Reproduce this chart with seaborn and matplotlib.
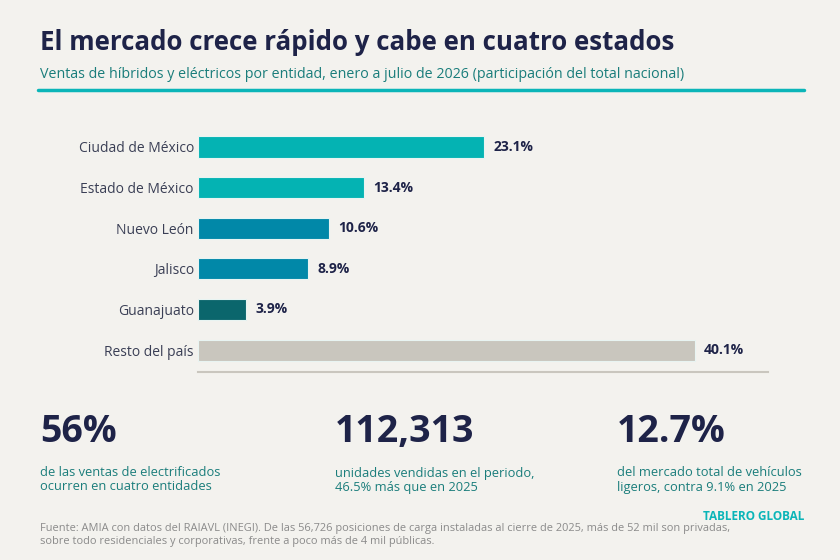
import seaborn as sns
import matplotlib.pyplot as plt
import pandas as pd

# data
estados = ['Ciudad de México', 'Estado de México', 'Nuevo León', 'Jalisco',
           'Guanajuato', 'Resto del país']
participacion = [23.1, 13.4, 10.6, 8.9, 3.9, 40.1]
colores = ['#04b3b3', '#04b3b3', '#0188a8', '#0188a8', '#0b666c', '#c9c6be']

cifras = ['56%', '112,313', '12.7%']
notas = ['de las ventas de electrificados\nocurren en cuatro entidades',
         'unidades vendidas en el periodo,\n46.5% más que en 2025',
         'del mercado total de vehículos\nligeros, contra 9.1% en 2025']

fondo = '#f3f2ee'
navy = '#1e2348'
teal = '#1a7d7b'

sns.set_theme(style='white')
plt.rcParams['font.family'] = ['Open Sans', 'DejaVu Sans']

df = pd.DataFrame({'estado': estados, 'valor': participacion})

fig = plt.figure(figsize=(8.4, 5.6), dpi=100, facecolor=fondo)
ax = fig.add_axes([198 / 840, 1 - 372 / 560, 570 / 840, 247 / 560])
ax.set_facecolor(fondo)

sns.barplot(data=df, x='valor', y='estado', hue='estado', palette=colores,
            saturation=1, legend=False, width=0.52, ax=ax,
            edgecolor='#e8f4f2', linewidth=0.8)

ax.set_xlim(0, 46)
ax.set_ylim(5.54, -0.54)
ax.set_xlabel('')
ax.set_ylabel('')
ax.set_xticks([])
ax.tick_params(axis='y', length=0, pad=3, labelsize=10, labelcolor='#3a3f55')
for s in ['top', 'right', 'left']:
    ax.spines[s].set_visible(False)
ax.spines['bottom'].set_color('#c9c6be')
ax.spines['bottom'].set_linewidth(1.5)

for i, v in enumerate(participacion):
    ax.text(v + 0.75, i, f'{v}%', va='center', ha='left', fontsize=10,
            fontweight='bold', color=navy)

# encabezado
fig.text(40 / 840, 1 - 42 / 560, 'El mercado crece rápido y cabe en cuatro estados',
         fontsize=18.6, fontweight='bold', color=navy, va='center')
fig.text(40 / 840, 1 - 75 / 560,
         'Ventas de híbridos y eléctricos por entidad, enero a julio de 2026 (participación del total nacional)',
         fontsize=10.3, color=teal, va='center')
fig.add_artist(plt.Line2D([38 / 840, 804 / 840], [1 - 90 / 560, 1 - 90 / 560],
                          color='#0bb5b8', linewidth=2.5))

# cifras destacadas
xs = [40, 335, 617]
for x, c, n in zip(xs, cifras, notas):
    fig.text(x / 840, 1 - 432 / 560, c, fontsize=27, fontweight='bold',
             color=navy, va='center')
    fig.text(x / 840, 1 - 480 / 560, n, fontsize=9.3, color=teal, va='center',
             linespacing=1.1)

# pie
fig.text(40 / 840, 1 - 535 / 560,
         'Fuente: AMIA con datos del RAIAVL (INEGI). De las 56,726 posiciones de carga instaladas al cierre de 2025, más de 52 mil son privadas,\n'
         'sobre todo residenciales y corporativas, frente a poco más de 4 mil públicas.',
         fontsize=7.9, color='#8a8a8a', va='center', linespacing=1.15)
fig.text(804 / 840, 1 - 517 / 560, 'TABLERO GLOBAL', fontsize=8.5,
         fontweight='bold', color='#0bb5b8', ha='right', va='center')

fig.savefig('out.png', dpi=100, facecolor=fondo)
